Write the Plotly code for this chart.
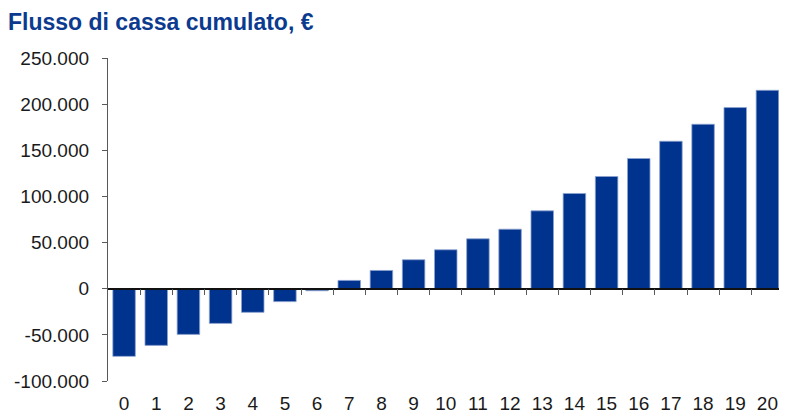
import plotly.graph_objects as go

# Cumulative cash flow per year (EUR).
years = [0, 1, 2, 3, 4, 5, 6, 7, 8, 9, 10, 11, 12, 13, 14, 15, 16, 17, 18, 19, 20]
cash_flow = [
    -73300, -61400, -49500, -37600, -25600, -14000, -2200,
    9000, 19800, 31400, 42200, 54100, 64500, 84400,
    103200, 121600, 141100, 159800, 178200, 196300, 215000,
]
y_tick_values = [-100000, -50000, 0, 50000, 100000, 150000, 200000, 250000]
y_tick_labels = ["-100.000", "-50.000", "0", "50.000", "100.000", "150.000", "200.000", "250.000"]

TITLE = "Flusso di cassa cumulato, €"
BAR_COLOR = "#00338d"
TITLE_COLOR = "#0b3a8f"
AXIS_COLOR = "#595959"
FONT = "Arial, Liberation Sans, sans-serif"

# the page body adds an 8px margin (and clips on the right), so the figure
# is 8px smaller than the window and keeps 8px free on the right
W, H = 779, 406

y_min, y_max = -100000, 250000
x_range = [-0.5, 20.36]

fig = go.Figure()
fig.add_trace(
    go.Bar(
        x=years,
        y=cash_flow,
        marker={"color": BAR_COLOR, "line": {"color": "#8ea3cf", "width": 0.8}},
        width=0.70,
        hovertemplate="Anno %{x}: %{y:,.0f} €<extra></extra>",
        showlegend=False,
    )
)
# invisible helper so the zero-line axis (x2) gets drawn
fig.add_trace(
    go.Scatter(
        x=years, y=cash_flow, xaxis="x2", mode="none",
        hoverinfo="skip", showlegend=False,
    )
)

fig.update_layout(
    width=W,
    height=H,
    margin={"l": 100, "r": 8, "t": 50, "b": 33},
    paper_bgcolor="white",
    plot_bgcolor="white",
    font={"family": FONT, "size": 19, "color": "#1a1a1a"},
    separators=",.",
    title={
        "text": f"<b>{TITLE}</b>",
        "x": 0,
        "xanchor": "left",
        "xref": "container",
        "y": 1 - 14 / H,
        "yanchor": "middle",
        "yref": "container",
        "font": {"family": FONT, "size": 23, "color": TITLE_COLOR},
    },
    xaxis={
        "range": x_range,
        "tickvals": years,
        "ticktext": [str(y) for y in years],
        "ticks": "",
        "showline": False,
        "showgrid": False,
        "zeroline": False,
        "ticklabelstandoff": 9,
        "automargin": False,
    },
    xaxis2={
        "range": x_range,
        "overlaying": "x",
        "anchor": "free",
        "position": (0 - y_min) / (y_max - y_min),
        "side": "bottom",
        "showline": True,
        "linecolor": "#111111",
        "linewidth": 1.5,
        "tickvals": [i + 0.5 for i in range(20)],
        "ticks": "outside",
        "ticklen": 6,
        "tickwidth": 1.3,
        "tickcolor": AXIS_COLOR,
        "showticklabels": False,
        "showgrid": False,
        "zeroline": False,
    },
    yaxis={
        "range": [y_min, y_max],
        "tickvals": y_tick_values,
        "ticktext": y_tick_labels,
        "ticks": "outside",
        "ticklen": 5,
        "tickwidth": 1.3,
        "tickcolor": AXIS_COLOR,
        "showline": True,
        "linecolor": AXIS_COLOR,
        "linewidth": 1.3,
        "showgrid": False,
        "zeroline": False,
        "ticklabelstandoff": 9,
        "automargin": False,
    },
    bargap=0.3,
)

fig.write_html("out.html")
